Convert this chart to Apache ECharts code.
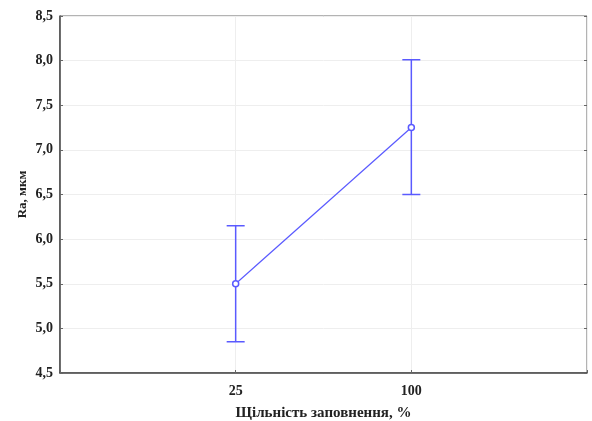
<!DOCTYPE html>
<html>
<head>
<meta charset="utf-8">
<script src="https://cdn.jsdelivr.net/npm/echarts@6/dist/echarts.min.js"></script>
<style>
  html, body { margin: 0; padding: 0; background: #fff; }
  #chart { width: 592px; height: 421px; }
</style>
</head>
<body>
<div id="chart"></div>
<script>
// categories (empty slots pad the axis on both sides)
const categories = ['', '25', '100', ''];
const means = [null, 5.5, 7.25, null];
const lower = [null, 4.85, 6.5, null];
const upper = [null, 6.15, 8.01, null];

const yTicks = { min: 4.5, max: 8.5, interval: 0.5 };

const blue = '#5a5aff';
const font = 'Liberation Serif';

let errData = [];
categories.forEach(function (c, i) {
  if (means[i] != null) errData.push([i, lower[i], upper[i]]);
});

let myChart = echarts.init(document.getElementById('chart'));
let option = {
  animation: false,
  grid: {
    left: 60, right: 5, top: 16, bottom: 48,
    outerBoundsMode: 'none',
    show: true,
    borderColor: '#666',
    borderWidth: 1
  },
  xAxis: {
    type: 'category',
    data: categories,
    boundaryGap: false,
    name: 'Щільність заповнення, %',
    nameLocation: 'middle',
    nameGap: 33,
    nameTextStyle: { fontFamily: font, fontWeight: 'bold', fontSize: 15, color: '#222' },
    axisLine: { lineStyle: { color: '#444', width: 1.5 } },
    axisTick: { inside: true, length: 3, lineStyle: { color: '#666' } },
    axisLabel: { fontFamily: font, fontWeight: 'bold', fontSize: 14, color: '#222', margin: 11 },
    splitLine: { show: true, lineStyle: { color: '#eee' } }
  },
  yAxis: [{
    type: 'value',
    min: yTicks.min,
    max: yTicks.max,
    interval: yTicks.interval,
    name: 'Ra, мкм',
    nameLocation: 'middle',
    nameRotate: 90,
    nameGap: 31,
    nameMoveOverlap: false,
    nameTextStyle: { fontFamily: font, fontWeight: 'bold', fontSize: 13, color: '#222' },
    axisLine: { show: true, lineStyle: { color: '#444', width: 1.5 } },
    axisTick: { show: true, inside: true, length: 3, lineStyle: { color: '#666' } },
    axisLabel: {
      fontFamily: font, fontWeight: 'bold', fontSize: 14, color: '#222', margin: 7,
      formatter: function (v) { return v.toFixed(1).replace('.', ','); }
    },
    splitLine: { show: true, lineStyle: { color: '#eee' } }
  }, {
    type: 'value',
    position: 'right',
    min: yTicks.min,
    max: yTicks.max,
    interval: yTicks.interval,
    axisLine: { show: false },
    axisTick: { show: true, inside: true, length: 3, lineStyle: { color: '#666' } },
    axisLabel: { show: false },
    splitLine: { show: false }
  }],
  series: [
    {
      type: 'line',
      data: means,
      symbol: 'circle',
      symbolSize: 6,
      itemStyle: { color: '#fff', borderColor: blue, borderWidth: 1.5 },
      lineStyle: { color: blue, width: 1.2 },
      z: 3
    },
    {
      type: 'custom',
      data: errData,
      renderItem: function (params, api) {
        let x = api.value(0);
        let lo = api.coord([x, api.value(1)]);
        let hi = api.coord([x, api.value(2)]);
        let half = 9;
        let style = { stroke: blue, lineWidth: 1.5 };
        return {
          type: 'group',
          children: [
            { type: 'line', shape: { x1: lo[0], y1: lo[1], x2: hi[0], y2: hi[1] }, style: style },
            { type: 'line', shape: { x1: lo[0] - half, y1: lo[1], x2: lo[0] + half, y2: lo[1] }, style: style },
            { type: 'line', shape: { x1: hi[0] - half, y1: hi[1], x2: hi[0] + half, y2: hi[1] }, style: style }
          ]
        };
      },
      z: 2
    }
  ]
};
myChart.setOption(option);
</script>
</body>
</html>
